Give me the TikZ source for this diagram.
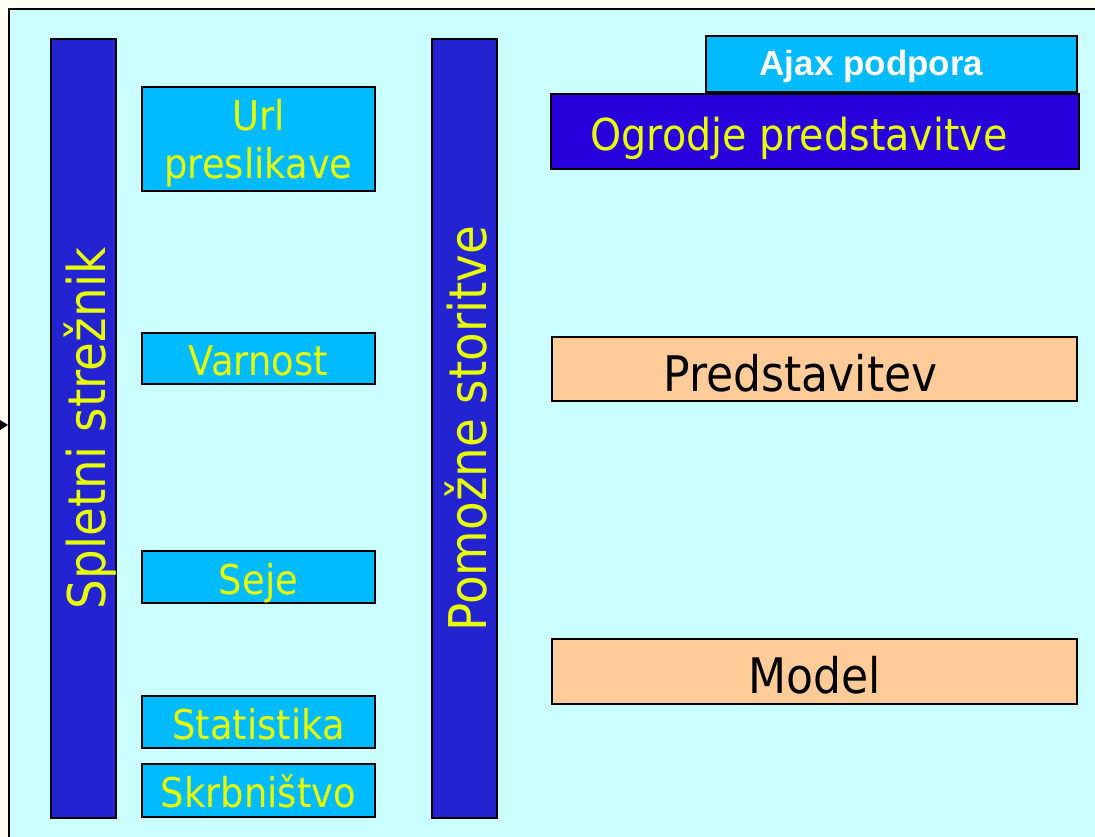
\documentclass[tikz,border=0pt]{standalone}
\usepackage{fontspec}
\setmainfont{DejaVu Sans}[FakeStretch=0.9]
\newfontfamily\ajaxfont{Liberation Sans}
\usetikzlibrary{arrows.meta}
\definecolor{paper}{RGB}{255,254,242}
\definecolor{slidebg}{RGB}{204,255,255}
\definecolor{barblue}{RGB}{35,35,210}
\definecolor{deepblue}{RGB}{40,0,220}
\definecolor{skyblue}{RGB}{0,187,255}
\definecolor{peach}{RGB}{255,204,153}
\definecolor{lime}{RGB}{232,255,0}
\newcommand\padright[1]{\rule{#1}{0pt}}
\tikzset{
  box/.style={draw=black, line width=1.3pt, inner sep=0pt, text depth=0pt},
  bar/.style={box, fill=barblue, text=lime, rotate=90,
    minimum width=779pt, minimum height=65pt, text height=44pt,
    font=\fontsize{52}{60}\selectfont},
  svc/.style={box, fill=skyblue, text=lime, minimum width=233pt,
    text height=34pt, font=\fontsize{41}{48}\selectfont},
  layer/.style={box, fill=peach, text=black, minimum width=525pt,
    minimum height=64pt, text height=44pt, font=\fontsize{49}{56}\selectfont}
}
\begin{document}
\begin{tikzpicture}[x=1pt,y=-1pt]
  \useasboundingbox (0,0) rectangle (1095,837);
  \fill[paper] (0,0) rectangle (1095,837);
  \node[draw=black, line width=2pt, fill=slidebg, inner sep=0pt,
    minimum width=1092pt, minimum height=832pt] (frame) at (555,425) {};
  % left column
  \draw
    (83.5,428.5) node[bar] (web){Spletni strežnik}
    (258.5,139) node[svc, minimum height=104pt, align=center, text height=80pt] (url){Url\\preslikave}
    (258.5,358.5) node[svc, minimum height=51pt] (sec){Varnost}
    (258.5,577) node[svc, minimum height=52pt] (sess){Seje}
    (258.5,722) node[svc, minimum height=52pt] (stat){Statistika}
    (258.5,790.5) node[svc, minimum height=53pt] (admin){Skrbništvo};
  % helper services and presentation layers
  \draw
    (464.5,428.5) node[bar] (aux){Pomožne storitve}
    (891.5,64) node[box, fill=skyblue, text=white, minimum width=371pt, minimum height=56pt,
      text height=24pt, font=\ajaxfont\bfseries\fontsize{35}{40}\selectfont] (ajax){Ajax podpora\padright{40pt}}
    (815,131.5) node[box, fill=deepblue, text=lime, minimum width=528pt, minimum height=75pt,
      text height=38pt, font=\fontsize{44}{50}\selectfont] (frm){Ogrodje predstavitve\padright{32pt}}
    (814.5,369) node[layer] (view){Predstavitev\padright{28pt}}
    (814.5,671.5) node[layer, minimum height=65pt] (model){Model};
  \coordinate (in) at (-40,425);
  \begin{scope}[-{Triangle[length=9pt,width=11pt]}]
    \draw[line width=1.3pt] (in) to (frame.west);
  \end{scope}
\end{tikzpicture}
\end{document}
